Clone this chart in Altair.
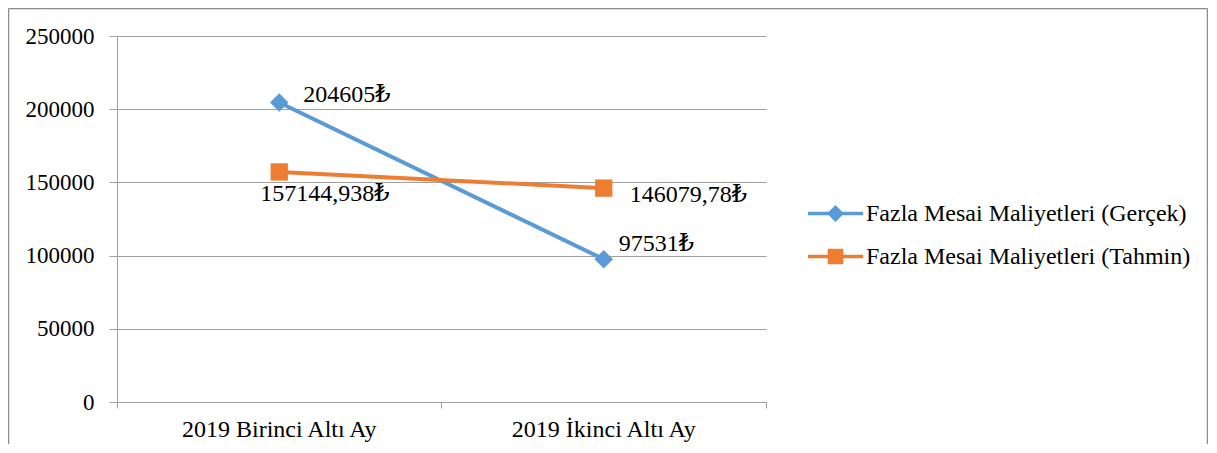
import altair as alt
import pandas as pd

categories = ["2019 Birinci Altı Ay", "2019 İkinci Altı Ay"]
series_names = ["Fazla Mesai Maliyetleri (Gerçek)", "Fazla Mesai Maliyetleri (Tahmin)"]
gercek = [204605, 97531]
tahmin = [157144.938, 146079.78]
y_ticks = [0, 50000, 100000, 150000, 200000, 250000]

FONT = "'Times New Roman', 'Liberation Serif', Tinos, 'DejaVu Serif', serif"
BLUE = "#5B9BD5"
ORANGE = "#ED7D31"
GRID = "#a0a0a0"


def fmt(v):
    return str(v).replace(".", ",") + "₺"


rows = []
for s, vals in zip(series_names, [gercek, tahmin]):
    for c, v in zip(categories, vals):
        rows.append({"series": s, "cat": c, "val": v, "label": fmt(v)})
df = pd.DataFrame(rows)

x_enc = alt.X(
    "cat:N",
    sort=categories,
    bandPosition=0.5,
    scale=alt.Scale(type="band", domain=categories, paddingInner=0, paddingOuter=0),
    axis=alt.Axis(
        title=None, labelAngle=0, bandPosition=1, tickExtra=True, ticks=True,
        tickSize=6, tickColor=GRID, domainColor=GRID, grid=False, labelLimit=0,
        labelFont=FONT, labelFontSize=24, labelColor="black", labelPadding=9,
    ),
)
y_enc = alt.Y(
    "val:Q",
    scale=alt.Scale(domain=[0, 250000]),
    axis=alt.Axis(
        values=y_ticks, title=None, grid=True, gridColor=GRID, domainColor=GRID,
        tickColor=GRID, tickSize=8, labelPadding=15, format="d",
        labelFont=FONT, labelFontSize=23, labelColor="black",
    ),
)

diamond_path = "M-1,0H1M0,-0.22L0.22,0L0,0.22L-0.22,0Z"
square_path = "M-1,0H1M-0.22,-0.22H0.22V0.22H-0.22Z"

series_layers = []
for s, col, shp, pth, ly, sz in [
    (series_names[0], BLUE, "diamond", diamond_path, 148, 340),
    (series_names[1], ORANGE, "square", square_path, 191, 300),
]:
    base = alt.Chart(df).transform_filter(alt.datum.series == s)
    line = base.mark_line(strokeWidth=4, color=col).encode(x=x_enc, y=y_enc)
    pts = base.mark_point(shape=shp, filled=True, size=sz, opacity=1).encode(
        x=x_enc, y=y_enc,
        color=alt.Color(
            "series:N", scale=alt.Scale(domain=[s], range=[col]),
            legend=alt.Legend(
                title=None, orient="none", legendX=689, legendY=ly,
                symbolType=pth, symbolSize=3025, symbolStrokeWidth=3.5,
                symbolStrokeColor=col, symbolFillColor=col,
                labelFont=FONT, labelFontSize=24, labelColor="black",
                labelOffset=1, labelLimit=0,
            ),
        ),
    )
    series_layers.append(alt.layer(line, pts))

label_specs = [
    (series_names[0], 0, 24, -7),
    (series_names[0], 1, 15, -15),
    (series_names[1], 0, -19, 22),
    (series_names[1], 1, 26, 7),
]
text_layers = []
for s, ci, dx, dy in label_specs:
    t = (
        alt.Chart(df)
        .transform_filter((alt.datum.series == s) & (alt.datum.cat == categories[ci]))
        .mark_text(align="left", baseline="middle", dx=dx, dy=dy, font=FONT,
                   fontSize=24, color="black")
        .encode(x=x_enc, y=y_enc, text="label:N")
    )
    text_layers.append(t)

frame_df = pd.DataFrame({"k": [0]})
frame_left = alt.Chart(frame_df).mark_rule(color="#8c8c8c", strokeWidth=1.5).encode(
    x=alt.value(-108.5), y=alt.value(-27.5), y2=alt.value(410))
frame_top = alt.Chart(frame_df).mark_rule(color="#8c8c8c", strokeWidth=1.5).encode(
    x=alt.value(-108.5), x2=alt.value(1090.5), y=alt.value(-27.5))
frame_right = alt.Chart(frame_df).mark_rule(color="#8c8c8c", strokeWidth=1.5).encode(
    x=alt.value(1090.5), y=alt.value(-27.5), y2=alt.value(410))

chart = (
    alt.layer(frame_left, frame_top, frame_right, *series_layers, *text_layers)
    .resolve_scale(color="independent")
    .resolve_legend(color="independent")
    .properties(
        width=649, height=366,
        padding={"left": 109, "top": 28, "right": 442, "bottom": 42},
        autosize=alt.AutoSizeParams(type="none"),
    )
    .configure_view(stroke=None)
)

chart.save("out.html", embed_options={"renderer": "svg", "actions": False})
